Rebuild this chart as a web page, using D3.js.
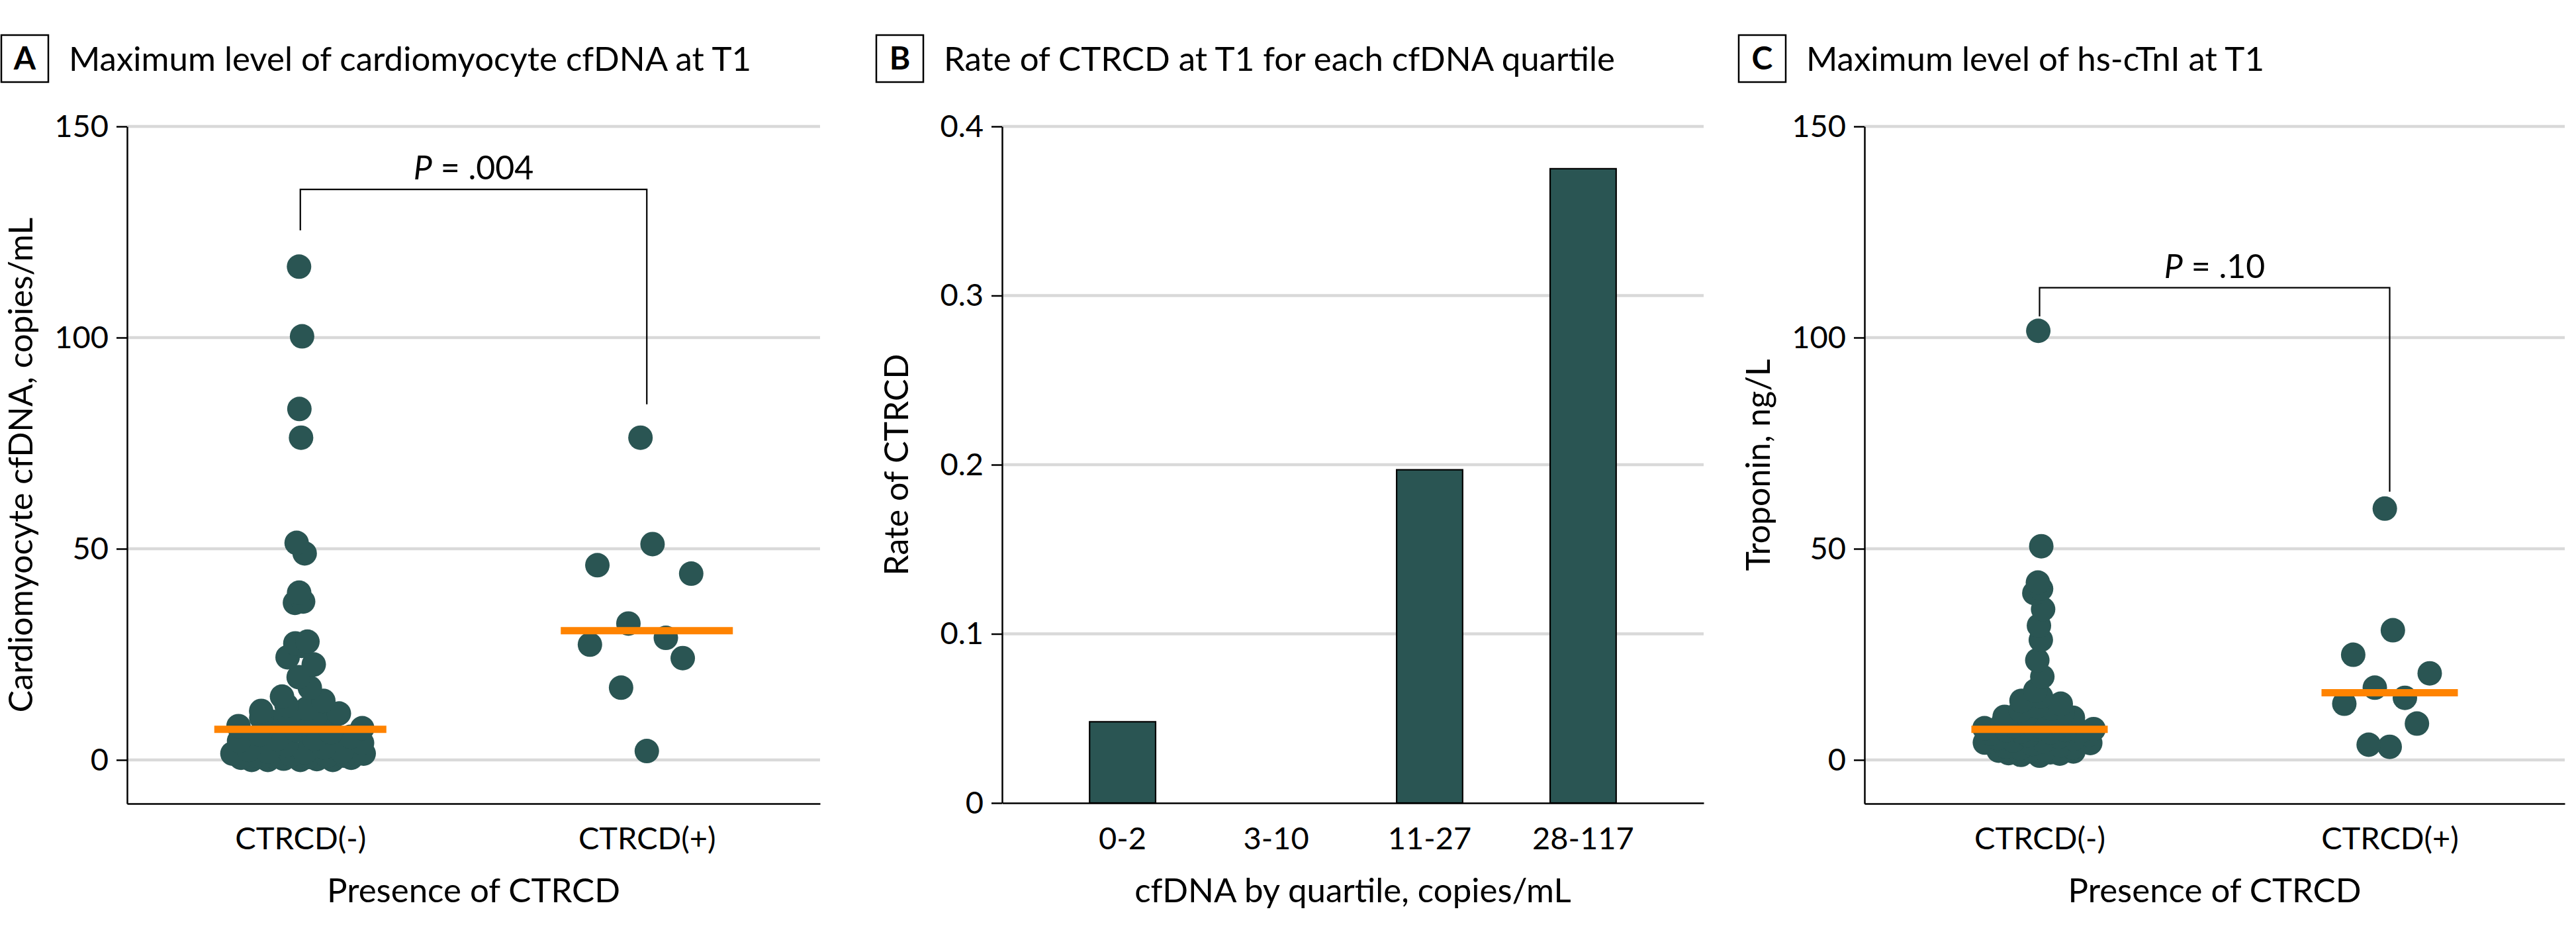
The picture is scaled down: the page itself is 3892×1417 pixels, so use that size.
<!DOCTYPE html>
<html><head><meta charset="utf-8">
<script src="https://cdn.jsdelivr.net/npm/d3@7"></script>
<style>
body{margin:0;background:#fff}
svg{display:block}
text{font-family:Lato,"Noto Sans",sans-serif;fill:#000}
</style>
</head><body>
<svg id="chart" width="3892" height="1417"></svg>
<script>
// ---------------- DATA ----------------
const groups = ["CTRCD(-)", "CTRCD(+)"];

// Panel A: maximum cardiomyocyte cfDNA at T1, copies/mL
const cfdnaNeg = [0, 0, 0, 0, 0.2, 0.3, 0.5, 0.5, 0.7, 0.8, 1, 1, 1, 1.2, 1.5, 1.5, 1.8, 2, 2, 2.4,
  3, 3.5, 4, 4.5, 5, 5, 5.5, 6, 6.5, 7, 7.5, 8, 8.5, 9, 9.5, 10, 10.3, 10.6,
  11, 11.6, 12.2, 12.9, 14, 15, 17.1, 19.6, 22.6, 24.3, 27, 27.6,
  28, 37.2, 37.5, 39.6, 48.9, 51.4, 76.3, 83.1, 100.3, 116.8];
const cfdnaPos = [2.1, 17.1, 24.1, 27.3, 28.9, 32.3, 44.1, 46.1, 51.1, 76.3];
const cfdnaP = ".004";

// Panel B: rate of CTRCD per cfDNA quartile
const quartileLabels = ["0-2", "3-10", "11-27", "28-117"];
const ctrcdRate = [0.048, 0, 0.197, 0.375];

// Panel C: maximum hs-cTnI at T1, ng/L
const tnNeg = [1.0, 1.2, 1.5, 1.6, 1.8, 2.0, 2.0, 2.2, 2.5, 2.8, 3.0, 3.2, 3.5, 3.8, 4.0, 4.1, 4.4, 4.6, 5.0, 5.2,
  5.5, 5.8, 6.0, 6.2, 6.5, 6.7, 6.8, 7.0, 7.1, 7.2,
  7.3, 7.5, 7.8, 8.0, 8.3, 8.6, 9.0, 9.5, 10.0, 10.2, 10.3, 10.8, 11.2, 11.8, 12.2, 12.7, 13.3, 14.0, 15.0,
  16.4, 19.7, 23.6, 28.4, 31.8, 35.7, 39.5, 40.5, 42.0, 50.6, 101.6];
const tnPos = [3.1, 3.6, 8.6, 13.3, 14.7, 17.1, 20.5, 24.9, 30.7, 59.5];
const tnP = ".10";

// tick labels
const yTicksAC = [0, 50, 100, 150];
const yTicksB = [0, 0.1, 0.2, 0.3, 0.4];

// bracket annotations (data units): [top, left end, right end]
const cfdnaBracket = [135.1, 125.4, 84.2];
const tnBracket = [111.8, 105, 63.5];

// ---------------- STYLE ----------------
const TEAL = "#2a5553", ORANGE = "#ff8300", GRID = "#d9d9d9";
const TOP = 191, BOTTOM = 1214;
const svg = d3.select("#chart");

function vdc(i) { let r = 0, f = 1; while (i > 0) { f /= 2; r += f * (i % 2); i = Math.floor(i / 2); } return r; }
function quasiOffsets(vals, adjust) {
  const n = vals.length;
  const s = vals.slice().sort(d3.ascending);
  const sd = d3.deviation(vals);
  const iqr = d3.quantile(s, 0.75) - d3.quantile(s, 0.25);
  const bw = 0.9 * Math.min(sd, iqr / 1.34) * Math.pow(n, -0.2) * adjust;
  const dens = vals.map(v => d3.sum(vals, x => Math.exp(-0.5 * ((v - x) / bw) ** 2)));
  const m = d3.max(dens);
  const idx = d3.range(n).sort((a, b) => vals[a] - vals[b] || a - b);
  const off = new Array(n);
  idx.forEach((k, r) => { off[k] = (vdc(r + 1) - 0.5) * 2 * dens[k] / m; });
  return off;
}

function titleBlock(axisX, letter, title) {
  const bx = axisX - 190;
  svg.append("rect").attr("x", bx).attr("y", 53).attr("width", 71).attr("height", 71)
    .attr("fill", "none").attr("stroke", "#000").attr("stroke-width", 2.5);
  svg.append("text").attr("x", bx + 35.5).attr("y", 105).attr("text-anchor", "middle")
    .attr("font-weight", "bold").attr("font-size", 48).text(letter);
  svg.append("text").attr("x", axisX - 88).attr("y", 107).attr("font-size", 51).text(title);
}

function styleAxis(g) {
  g.selectAll(".domain").attr("stroke", "#000").attr("stroke-width", 2.5);
  g.selectAll(".tick line").attr("stroke", "#000").attr("stroke-width", 2.5);
  g.selectAll(".tick text").attr("font-size", 47).attr("font-family", "Lato");
}

function scatterPanel(o) {
  const x = d3.scalePoint().domain(groups).range([o.x0, o.x1]).padding(0.5);
  const y = d3.scaleLinear().domain([-10.35, 150]).range([BOTTOM, TOP]);
  titleBlock(o.x0, o.letter, o.title);
  // grid
  svg.append("g").selectAll("line").data(yTicksAC).join("line")
    .attr("x1", o.x0).attr("x2", o.x1).attr("y1", d => y(d)).attr("y2", d => y(d))
    .attr("stroke", GRID).attr("stroke-width", 4.5);
  // axes
  const ya = svg.append("g").attr("transform", `translate(${o.x0},0)`)
    .call(d3.axisLeft(y).tickValues(yTicksAC).tickSize(16).tickSizeOuter(0).tickPadding(12));
  styleAxis(ya);
  const xa = svg.append("g").attr("transform", `translate(0,${BOTTOM})`)
    .call(d3.axisBottom(x).tickSize(0).tickSizeOuter(0));
  styleAxis(xa);
  xa.selectAll(".tick text").attr("y", 69).attr("dy", 0);
  // axis titles
  svg.append("text").attr("transform", `translate(${o.x0 - 143},${(TOP + BOTTOM) / 2}) rotate(-90)`)
    .attr("text-anchor", "middle").attr("font-size", 50).text(o.yLabel);
  svg.append("text").attr("x", (o.x0 + o.x1) / 2).attr("y", 1363)
    .attr("text-anchor", "middle").attr("font-size", 51).text(o.xLabel);
  // dots
  const sets = [o.neg, o.pos];
  sets.forEach((vals, gi) => {
    const off = quasiOffsets(vals, 1);
    svg.append("g").selectAll("circle").data(vals).join("circle")
      .attr("cx", (d, i) => x(groups[gi]) + off[i] * o.spread)
      .attr("cy", d => y(d)).attr("r", 18.5).attr("fill", TEAL);
  });
  // medians
  sets.forEach((vals, gi) => {
    const m = d3.median(vals);
    svg.append("line").attr("x1", x(groups[gi]) - o.medHalf).attr("x2", x(groups[gi]) + o.medHalf)
      .attr("y1", y(m)).attr("y2", y(m)).attr("stroke", ORANGE).attr("stroke-width", 11);
  });
  // bracket
  const [bt, bl, br] = o.bracket;
  const xl = x(groups[0]), xr = x(groups[1]);
  svg.append("path").attr("d", `M${xl},${y(bl)}V${y(bt)}H${xr}V${y(br)}`)
    .attr("fill", "none").attr("stroke", "#000").attr("stroke-width", 2.2);
  const t = svg.append("text").attr("x", (xl + xr) / 2).attr("y", y(bt) - 15)
    .attr("text-anchor", "middle").attr("font-size", 50);
  t.append("tspan").attr("font-style", "italic").text("P");
  t.append("tspan").text(" = " + o.p);
}

scatterPanel({ x0: 192, x1: 1239, letter: "A", title: "Maximum level of cardiomyocyte cfDNA at T1",
  yLabel: "Cardiomyocyte cfDNA, copies/mL", xLabel: "Presence of CTRCD",
  neg: cfdnaNeg, pos: cfdnaPos, bracket: cfdnaBracket, p: cfdnaP, spread: 115, medHalf: 130 });

scatterPanel({ x0: 2817, x1: 3875, letter: "C", title: "Maximum level of hs-cTnI at T1",
  yLabel: "Troponin, ng/L", xLabel: "Presence of CTRCD",
  neg: tnNeg, pos: tnPos, bracket: tnBracket, p: tnP, spread: 92, medHalf: 103 });

// Panel B
(function () {
  const x0 = 1514, x1 = 2574, yB = 1213;
  const x = d3.scaleBand().domain(quartileLabels).range([x0, x1]).paddingInner(0.57).paddingOuter(0.57);
  const y = d3.scaleLinear().domain([0, 0.4]).range([yB, TOP]);
  titleBlock(x0, "B", "Rate of CTRCD at T1 for each cfDNA quartile");
  svg.append("g").selectAll("line").data(yTicksB.filter(d => d > 0)).join("line")
    .attr("x1", x0).attr("x2", x1).attr("y1", d => y(d)).attr("y2", d => y(d))
    .attr("stroke", GRID).attr("stroke-width", 4.5);
  svg.append("g").selectAll("rect").data(ctrcdRate).join("rect")
    .attr("x", (d, i) => x(quartileLabels[i])).attr("width", x.bandwidth())
    .attr("y", d => y(d)).attr("height", d => y(0) - y(d))
    .attr("fill", TEAL).attr("stroke", "#000").attr("stroke-width", 2.2);
  const ya = svg.append("g").attr("transform", `translate(${x0},0)`)
    .call(d3.axisLeft(y).tickValues(yTicksB).tickFormat(d => d === 0 ? "0" : d3.format(".1f")(d))
      .tickSize(16).tickSizeOuter(0).tickPadding(12));
  styleAxis(ya);
  const xa = svg.append("g").attr("transform", `translate(0,${yB})`)
    .call(d3.axisBottom(x).tickSize(0).tickSizeOuter(0));
  styleAxis(xa);
  xa.selectAll(".tick text").attr("y", 70).attr("dy", 0);
  svg.append("text").attr("transform", `translate(${x0 - 142},${(TOP + yB) / 2}) rotate(-90)`)
    .attr("text-anchor", "middle").attr("font-size", 50).text("Rate of CTRCD");
  svg.append("text").attr("x", (x0 + x1) / 2).attr("y", 1363)
    .attr("text-anchor", "middle").attr("font-size", 51).text("cfDNA by quartile, copies/mL");
})();
</script>
</body></html>
